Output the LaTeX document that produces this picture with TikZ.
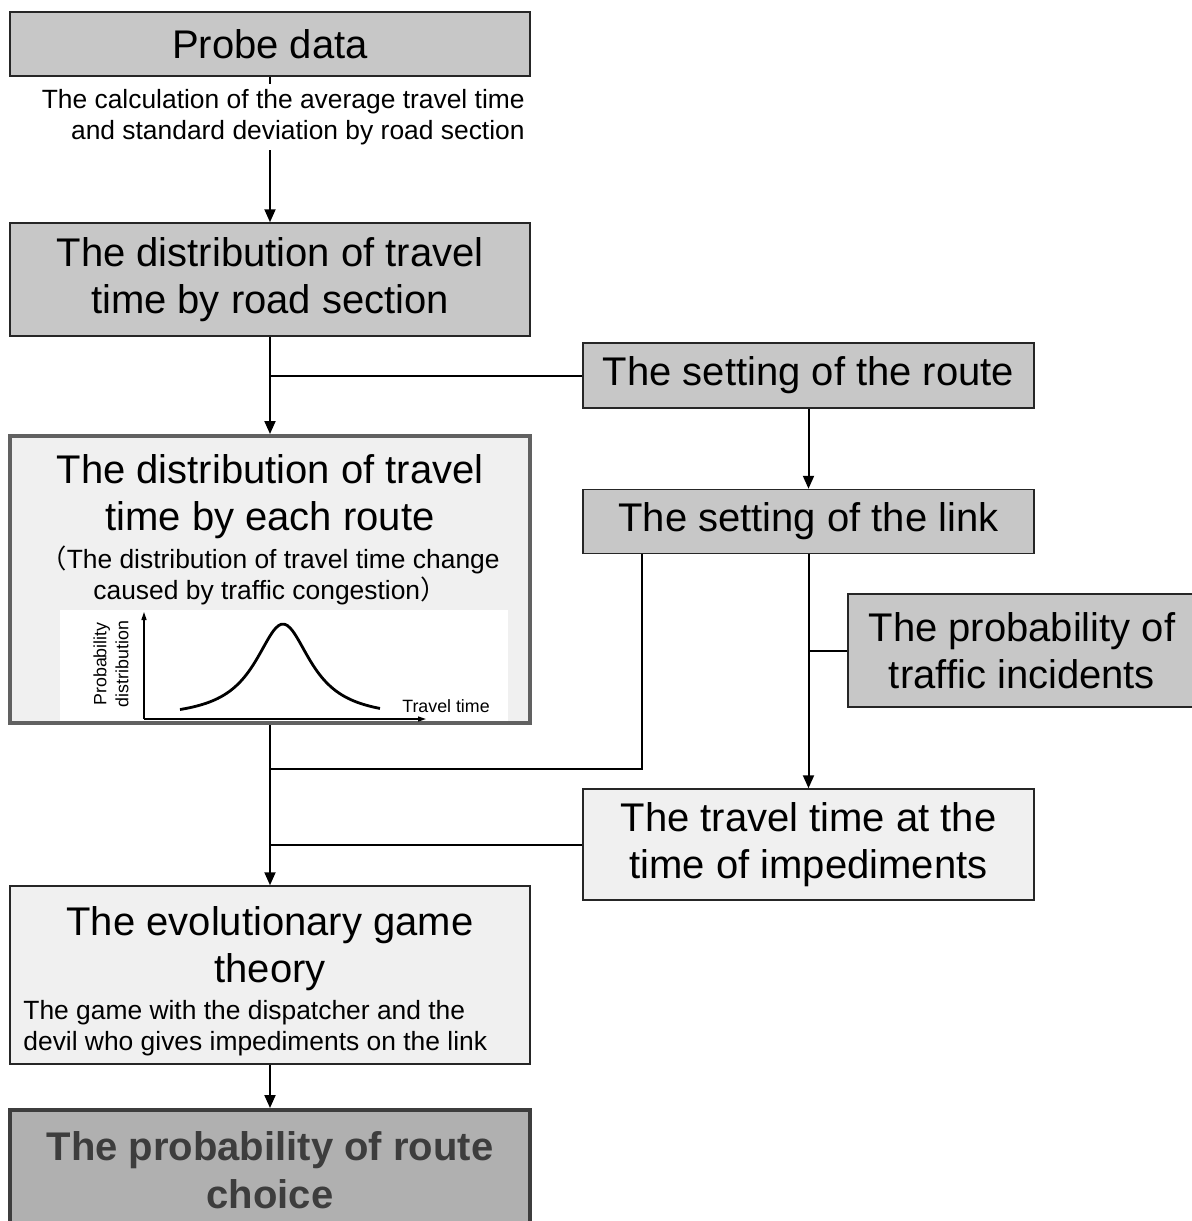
\documentclass[tikz,border=0pt]{standalone}
\usepackage{fontspec}
\setmainfont{Liberation Sans}
\newfontfamily\cjkfont{Noto Sans CJK JP}
\usetikzlibrary{positioning}
\usetikzlibrary{arrows.meta}

\begin{document}
\begin{tikzpicture}[
                          x=0.5pt, y=-0.5pt,
                          >={Triangle[width=5.5pt,length=6.5pt]},
                          graynode/.style={rectangle, draw=black!85, fill=black!22, line width=0.75pt, inner sep=0pt, align=center, font=\fontsize{20}{23.5}\selectfont},
                          lightnode/.style={graynode, fill=black!6},
                          framednode/.style={rectangle, draw=black!62, fill=black!6, line width=2pt, inner sep=0pt},
                          resultnode/.style={rectangle, draw=black!76, fill=black!31, line width=2pt, inner sep=0pt, align=center, text=black!76, font=\fontsize{20}{24}\selectfont\bfseries},
                          bigtext/.style={inner sep=0pt, align=center, font=\fontsize{20}{23.5}\selectfont},
                          smalltext/.style={inner sep=0pt, font=\fontsize{13.2}{15.5}\selectfont},
                          tinytext/.style={inner sep=0pt, align=center, font=\fontsize{8.9}{11}\selectfont},
                          connector/.style={line width=1pt},
                          axis/.style={line width=0.7pt, -{Triangle[width=2.5pt,length=4pt]}},
                      ]
                      \useasboundingbox (0,0) rectangle (1192,1221);

                      % Nodes
                      \node[graynode, minimum width=260pt, minimum height=32pt]     (probe)      at (270,44)     {Probe data};
                      \node[graynode, minimum width=260pt, minimum height=56.5pt]   (road_dist)  at (270,279.5)  {The distribution of travel\\time by road section};
                      \node[framednode, minimum width=260pt, minimum height=143.5pt] (route_dist) at (270,579.5) {};
                      \node[lightnode, minimum width=260pt, minimum height=89pt]    (game)       at (270,975)    {};
                      \node[resultnode, minimum width=260pt, minimum height=60.5pt] (choice)     at (270,1170.5) {The probability of route\\choice};

                      \node[graynode, minimum width=225.5pt, minimum height=32.5pt] (route)      at (808.5,375.5) {The setting of the route};
                      \node[graynode, minimum width=225.5pt, minimum height=32pt]   (link)       [below=40pt of route]  {The setting of the link};
                      \node[graynode, minimum width=174pt, minimum height=56.5pt]   (incidents)  at (1022,650.5)  {The probability of\\traffic incidents};
                      \node[lightnode, minimum width=225.5pt, minimum height=55.5pt] (impediments) [below=117pt of link] {The travel time at the\\time of impediments};

                      \coordinate (merge_link) at (270,769);

                      % Texts in the boxes
                      \node[bigtext]   (route_title) [below=10pt of route_dist.north] {The distribution of travel\\time by each route};
                      \node[smalltext, align=center] (route_note) [below=3pt of route_title] {{\cjkfont （}The distribution of travel time change\\caused by traffic congestion{\cjkfont ）}};
                      \node[bigtext]   (game_title)  [below=10.5pt of game.north] {The evolutionary game\\theory};
                      \node[smalltext, align=left, anchor=north west] (game_note) at (23,1000) {The game with the dispatcher and the\\devil who gives impediments on the link};

                      % Graph
                      \fill[white] (60,610) rectangle (508,721);
                      \draw[axis] (144,719) -- (144,612);
                      \draw[axis] (144,719) -- (426,719);
                      \draw[line width=1.4pt] plot[domain=180:380, samples=70, smooth] (\x, {719-95/(1+((\x-283)/34.3)^2)});
                      \node[tinytext, rotate=90] (axis_y) at (111,664) {Probability\\distribution};
                      \node[tinytext]            (axis_x) at (446,706) {Travel time};

                      %Lines
                      \draw[->, connector] (probe.south) -- (road_dist.north);
                      \draw[->, connector] (road_dist.south) -- (route_dist.north);
                      \draw[connector] (route.west) -- (route.west -| road_dist.south);
                      \draw[->, connector] (route.south) -- (link.north);
                      \draw[connector] ([xshift=30pt]link.south west) |- (merge_link);
                      \draw[->, connector] (link.south) -- (impediments.north);
                      \draw[connector] (incidents.west) -- (incidents.west -| link.south);
                      \draw[connector] (impediments.west) -- (impediments.west -| route_dist.south);
                      \draw[->, connector] (route_dist.south) -- (game.north);
                      \draw[->, connector] (game.south) -- (choice.north);

                      \node[smalltext, align=right, fill=white, inner ysep=2.5pt, anchor=east] (probe_calc) at (525,117) {The calculation of the average travel time\\and standard deviation by road section};
                  \end{tikzpicture}
\end{document}
